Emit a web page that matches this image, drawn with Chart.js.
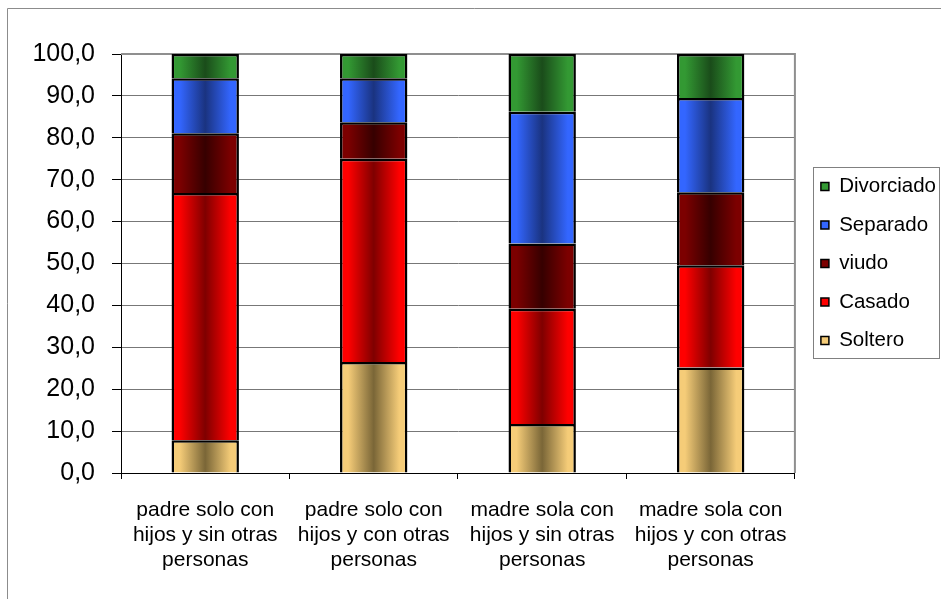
<!DOCTYPE html>
<html>
<head>
<meta charset="utf-8">
<script src="https://cdn.jsdelivr.net/npm/chart.js@4.4.1/dist/chart.umd.min.js"></script>
<style>
  html, body { margin: 0; padding: 0; background: #fff; }
  canvas { display: block; }
</style>
</head>
<body>
<canvas id="estado-civil" width="941" height="599"></canvas>
<script>
const categories = [
    ["padre solo con", "hijos y sin otras", "personas"],
    ["padre solo con", "hijos y con otras", "personas"],
    ["madre sola con", "hijos y sin otras", "personas"],
    ["madre sola con", "hijos y con otras", "personas"]
];
const yTickLabels = ["0,0", "10,0", "20,0", "30,0", "40,0", "50,0", "60,0", "70,0", "80,0", "90,0", "100,0"];

const soltero    = [7.8, 26.5, 11.7, 25.2];
const casado     = [59.0, 48.5, 27.5, 24.4];
const viudo      = [14.3, 8.7, 15.6, 17.4];
const separado   = [13.1, 10.5, 31.4, 22.5];
const divorciado = [5.8, 5.8, 13.8, 10.5];

// edge colour, centre colour
const colours = {
    Soltero:    ["#f5cc78", "#7a6637"],
    Casado:     ["#ff0000", "#7f0000"],
    viudo:      ["#7c0000", "#360000"],
    Separado:   ["#3366ff", "#1a3380"],
    Divorciado: ["#339933", "#1a4c1a"]
};

function barFill(name) {
    return (context) => {
        const [edge, centre] = colours[name];
        const chart = context.chart;
        const xScale = chart.scales.x;
        if (!xScale || context.type !== "data") return edge;
        const cx = xScale.getPixelForValue(context.dataIndex);
        const w = xScale.width / categories.length * 0.4;
        if (!Number.isFinite(cx) || !Number.isFinite(w) || w <= 0) return edge;
        const g = chart.ctx.createLinearGradient(cx - w / 2, 0, cx + w / 2, 0);
        g.addColorStop(0, edge);
        g.addColorStop(0.12, edge);
        g.addColorStop(0.5, centre);
        g.addColorStop(0.88, edge);
        g.addColorStop(1, edge);
        return g;
    };
}

function series(label, data) {
    return {
        label: label,
        data: data,
        backgroundColor: barFill(label),
        borderColor: "#000000",
        borderWidth: 2.5,
        barPercentage: 0.4,
        categoryPercentage: 1
    };
}

const frames = {
    id: "frames",
    beforeDraw(chart) {
        const ctx = chart.ctx;
        ctx.save();
        ctx.strokeStyle = "#8c8c8c";
        ctx.lineWidth = 1;
        ctx.beginPath();
        ctx.moveTo(7.5, chart.height);
        ctx.lineTo(7.5, 8.5);
        ctx.lineTo(chart.width, 8.5);
        ctx.stroke();
        ctx.restore();
    },
    beforeDatasetsDraw(chart) {
        const ctx = chart.ctx;
        const a = chart.chartArea;
        ctx.save();
        ctx.strokeStyle = "#8f8f8f";
        ctx.lineWidth = 2;
        ctx.beginPath();
        ctx.moveTo(a.left, a.top);
        ctx.lineTo(a.right, a.top);
        ctx.lineTo(a.right, a.bottom);
        ctx.stroke();
        ctx.restore();
    },
    afterDraw(chart) {
        const legend = chart.legend;
        if (!legend || !legend.legendHitBoxes.length) return;
        const boxes = legend.legendHitBoxes;
        const first = boxes[0];
        const last = boxes[boxes.length - 1];
        const ctx = chart.ctx;
        const left = Math.round(first.left - 8);
        const top = Math.round(first.top - 9);
        const bottom = Math.round(last.top + last.height + 7);
        ctx.save();
        ctx.strokeStyle = "#808080";
        ctx.lineWidth = 1;
        ctx.strokeRect(left + 0.5, top + 0.5, chart.width - 2 - left, bottom - top);
        ctx.restore();
    }
};

const legendShift = {
    id: "legendShift",
    beforeDraw(chart) {
        const legend = chart.legend;
        const shift = chart.chartArea.right + 8 - legend.left;
        legend.left += shift;
        legend.right += shift;
        legend.legendHitBoxes.forEach(b => { b.left += shift; });
    }
};

new Chart(document.getElementById("estado-civil").getContext("2d"), {
    type: "bar",
    data: {
        labels: categories,
        datasets: [
            series("Soltero", soltero),
            series("Casado", casado),
            series("viudo", viudo),
            series("Separado", separado),
            series("Divorciado", divorciado)
        ]
    },
    options: {
        responsive: false,
        animation: false,
        layout: { padding: { top: 54, left: 0, right: 3, bottom: 0 } },
        scales: {
            x: {
                stacked: true,
                grid: { display: true, drawOnChartArea: false, drawTicks: true, tickLength: 6, color: "#000000" },
                border: { display: true, color: "#000000", width: 1 },
                ticks: {
                    color: "#000000",
                    padding: 19,
                    maxRotation: 0,
                    font: { family: "'Liberation Sans', Arial, sans-serif", size: 21, lineHeight: 1.18 }
                },
                afterFit(scale) { scale.height = 126; }
            },
            y: {
                stacked: true,
                min: 0,
                max: 100,
                grid: { color: "#777777", lineWidth: 1, tickLength: 9, tickColor: "#000000" },
                border: { display: true, color: "#000000", width: 1 },
                ticks: {
                    stepSize: 10,
                    color: "#000000",
                    padding: 17,
                    font: { family: "'Liberation Sans', Arial, sans-serif", size: 25 },
                    callback: (value, index) => yTickLabels[index]
                },
                afterFit(scale) { scale.width = 121; }
            }
        },
        plugins: {
            tooltip: { enabled: false },
            legend: {
                position: "right",
                fullSize: false,
                reverse: true,
                maxWidth: 147,
                labels: {
                    boxWidth: 8,
                    boxHeight: 8,
                    padding: 18,
                    color: "#000000",
                    font: { family: "'Liberation Sans', Arial, sans-serif", size: 20.5 },
                    generateLabels(chart) {
                        const items = Chart.defaults.plugins.legend.labels.generateLabels(chart);
                        return items.map(item => {
                            const name = chart.data.datasets[item.datasetIndex].label;
                            item.fillStyle = colours[name][0];
                            item.strokeStyle = "#000000";
                            item.lineWidth = 1.5;
                            return item;
                        });
                    }
                }
            }
        }
    },
    plugins: [frames, legendShift]
});
</script>
</body>
</html>
